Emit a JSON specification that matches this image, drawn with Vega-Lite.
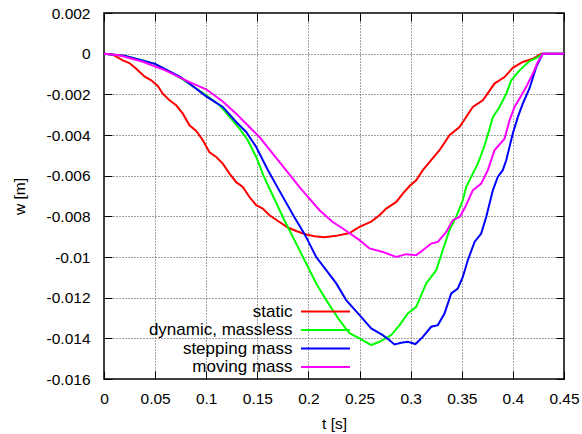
{
  "$schema": "https://vega.github.io/schema/vega-lite/v6.json",
  "width": 460,
  "height": 366,
  "autosize": {"type": "none"},
  "padding": {"left": 104, "top": 13, "right": 18, "bottom": 55},
  "background": "white",
  "config": {
    "font": "Liberation Sans",
    "view": {"stroke": "black", "strokeWidth": 1.5},
    "axis": {
      "domain": false,
      "tickColor": "black",
      "tickWidth": 1,
      "labelColor": "black",
      "labelFontSize": 15.5,
      "labelFont": "Liberation Sans",
      "titleFont": "Liberation Sans",
      "titleFontSize": 15.5,
      "titleFontWeight": "normal",
      "titleColor": "black",
      "labelFlush": false,
      "labelOverlap": false,
      "gridColor": "#444444",
      "gridDash": [1, 2],
      "gridWidth": 1
    }
  },
  "data": {
    "values": [
      {"series": "static", "t": 0, "w": 0},
      {"series": "static", "t": 0.0086, "w": -0.00005},
      {"series": "static", "t": 0.0184, "w": -0.00033},
      {"series": "static", "t": 0.0249, "w": -0.00046},
      {"series": "static", "t": 0.0315, "w": -0.00074},
      {"series": "static", "t": 0.0396, "w": -0.00112},
      {"series": "static", "t": 0.0462, "w": -0.00131},
      {"series": "static", "t": 0.0526, "w": -0.00159},
      {"series": "static", "t": 0.0575, "w": -0.00197},
      {"series": "static", "t": 0.0641, "w": -0.00229},
      {"series": "static", "t": 0.0706, "w": -0.00254},
      {"series": "static", "t": 0.0771, "w": -0.00295},
      {"series": "static", "t": 0.0836, "w": -0.00352},
      {"series": "static", "t": 0.0902, "w": -0.0038},
      {"series": "static", "t": 0.0967, "w": -0.00426},
      {"series": "static", "t": 0.1032, "w": -0.00485},
      {"series": "static", "t": 0.1098, "w": -0.00508},
      {"series": "static", "t": 0.1162, "w": -0.00541},
      {"series": "static", "t": 0.1228, "w": -0.0059},
      {"series": "static", "t": 0.1293, "w": -0.00632},
      {"series": "static", "t": 0.1358, "w": -0.00656},
      {"series": "static", "t": 0.1423, "w": -0.00705},
      {"series": "static", "t": 0.1489, "w": -0.00745},
      {"series": "static", "t": 0.1553, "w": -0.00762},
      {"series": "static", "t": 0.1619, "w": -0.00795},
      {"series": "static", "t": 0.1717, "w": -0.00828},
      {"series": "static", "t": 0.1798, "w": -0.00855},
      {"series": "static", "t": 0.188, "w": -0.00872},
      {"series": "static", "t": 0.1978, "w": -0.00889},
      {"series": "static", "t": 0.2059, "w": -0.00898},
      {"series": "static", "t": 0.2157, "w": -0.00903},
      {"series": "static", "t": 0.2272, "w": -0.00896},
      {"series": "static", "t": 0.2402, "w": -0.00882},
      {"series": "static", "t": 0.2499, "w": -0.00852},
      {"series": "static", "t": 0.2614, "w": -0.00826},
      {"series": "static", "t": 0.2695, "w": -0.00795},
      {"series": "static", "t": 0.2761, "w": -0.00762},
      {"series": "static", "t": 0.2859, "w": -0.00729},
      {"series": "static", "t": 0.2923, "w": -0.00688},
      {"series": "static", "t": 0.2989, "w": -0.00651},
      {"series": "static", "t": 0.3054, "w": -0.00623},
      {"series": "static", "t": 0.3119, "w": -0.00573},
      {"series": "static", "t": 0.3184, "w": -0.00533},
      {"series": "static", "t": 0.3282, "w": -0.00475},
      {"series": "static", "t": 0.338, "w": -0.00401},
      {"series": "static", "t": 0.3478, "w": -0.00361},
      {"series": "static", "t": 0.3608, "w": -0.00262},
      {"series": "static", "t": 0.3706, "w": -0.00229},
      {"series": "static", "t": 0.382, "w": -0.00147},
      {"series": "static", "t": 0.3918, "w": -0.00115},
      {"series": "static", "t": 0.3999, "w": -0.0007},
      {"series": "static", "t": 0.4097, "w": -0.00041},
      {"series": "static", "t": 0.4195, "w": -0.00025},
      {"series": "static", "t": 0.4277, "w": 0},
      {"series": "static", "t": 0.45, "w": 0},

      {"series": "dynamic, massless", "t": 0, "w": 0},
      {"series": "dynamic, massless", "t": 0.02, "w": -0.0001},
      {"series": "dynamic, massless", "t": 0.035, "w": -0.0003},
      {"series": "dynamic, massless", "t": 0.05, "w": -0.0005},
      {"series": "dynamic, massless", "t": 0.075, "w": -0.0012},
      {"series": "dynamic, massless", "t": 0.09, "w": -0.0017},
      {"series": "dynamic, massless", "t": 0.1, "w": -0.00205},
      {"series": "dynamic, massless", "t": 0.1132, "w": -0.00254},
      {"series": "dynamic, massless", "t": 0.123, "w": -0.00312},
      {"series": "dynamic, massless", "t": 0.1326, "w": -0.00369},
      {"series": "dynamic, massless", "t": 0.1407, "w": -0.00426},
      {"series": "dynamic, massless", "t": 0.1489, "w": -0.00508},
      {"series": "dynamic, massless", "t": 0.156, "w": -0.006},
      {"series": "dynamic, massless", "t": 0.1619, "w": -0.00663},
      {"series": "dynamic, massless", "t": 0.1749, "w": -0.00803},
      {"series": "dynamic, massless", "t": 0.188, "w": -0.00934},
      {"series": "dynamic, massless", "t": 0.1978, "w": -0.01032},
      {"series": "dynamic, massless", "t": 0.2076, "w": -0.0113},
      {"series": "dynamic, massless", "t": 0.2174, "w": -0.01212},
      {"series": "dynamic, massless", "t": 0.2303, "w": -0.01311},
      {"series": "dynamic, massless", "t": 0.2402, "w": -0.01375},
      {"series": "dynamic, massless", "t": 0.25, "w": -0.014},
      {"series": "dynamic, massless", "t": 0.2614, "w": -0.01433},
      {"series": "dynamic, massless", "t": 0.2695, "w": -0.01417},
      {"series": "dynamic, massless", "t": 0.281, "w": -0.01384},
      {"series": "dynamic, massless", "t": 0.2891, "w": -0.01335},
      {"series": "dynamic, massless", "t": 0.2972, "w": -0.01278},
      {"series": "dynamic, massless", "t": 0.3054, "w": -0.01245},
      {"series": "dynamic, massless", "t": 0.3152, "w": -0.0113},
      {"series": "dynamic, massless", "t": 0.325, "w": -0.01065},
      {"series": "dynamic, massless", "t": 0.3314, "w": -0.00967},
      {"series": "dynamic, massless", "t": 0.338, "w": -0.00868},
      {"series": "dynamic, massless", "t": 0.3445, "w": -0.00803},
      {"series": "dynamic, massless", "t": 0.351, "w": -0.00721},
      {"series": "dynamic, massless", "t": 0.3543, "w": -0.00656},
      {"series": "dynamic, massless", "t": 0.3608, "w": -0.0059},
      {"series": "dynamic, massless", "t": 0.3657, "w": -0.00541},
      {"series": "dynamic, massless", "t": 0.3706, "w": -0.00475},
      {"series": "dynamic, massless", "t": 0.3739, "w": -0.00426},
      {"series": "dynamic, massless", "t": 0.3804, "w": -0.00312},
      {"series": "dynamic, massless", "t": 0.3869, "w": -0.00262},
      {"series": "dynamic, massless", "t": 0.3935, "w": -0.00197},
      {"series": "dynamic, massless", "t": 0.3984, "w": -0.00131},
      {"series": "dynamic, massless", "t": 0.4065, "w": -0.00082},
      {"series": "dynamic, massless", "t": 0.4163, "w": -0.00036},
      {"series": "dynamic, massless", "t": 0.4244, "w": -0.00017},
      {"series": "dynamic, massless", "t": 0.4293, "w": 0},
      {"series": "dynamic, massless", "t": 0.45, "w": 0},

      {"series": "stepping mass", "t": 0, "w": 0},
      {"series": "stepping mass", "t": 0.02, "w": -0.0001},
      {"series": "stepping mass", "t": 0.05, "w": -0.0005},
      {"series": "stepping mass", "t": 0.075, "w": -0.00115},
      {"series": "stepping mass", "t": 0.1, "w": -0.0021},
      {"series": "stepping mass", "t": 0.1162, "w": -0.00262},
      {"series": "stepping mass", "t": 0.1293, "w": -0.00336},
      {"series": "stepping mass", "t": 0.1391, "w": -0.00385},
      {"series": "stepping mass", "t": 0.1489, "w": -0.00459},
      {"series": "stepping mass", "t": 0.16, "w": -0.0057},
      {"series": "stepping mass", "t": 0.17, "w": -0.0066},
      {"series": "stepping mass", "t": 0.1857, "w": -0.008},
      {"series": "stepping mass", "t": 0.1965, "w": -0.0089},
      {"series": "stepping mass", "t": 0.2076, "w": -0.01},
      {"series": "stepping mass", "t": 0.2174, "w": -0.01065},
      {"series": "stepping mass", "t": 0.2272, "w": -0.0113},
      {"series": "stepping mass", "t": 0.2369, "w": -0.01212},
      {"series": "stepping mass", "t": 0.25, "w": -0.01286},
      {"series": "stepping mass", "t": 0.2614, "w": -0.01351},
      {"series": "stepping mass", "t": 0.2727, "w": -0.01384},
      {"series": "stepping mass", "t": 0.2793, "w": -0.01409},
      {"series": "stepping mass", "t": 0.2842, "w": -0.0143},
      {"series": "stepping mass", "t": 0.2907, "w": -0.01422},
      {"series": "stepping mass", "t": 0.2972, "w": -0.01417},
      {"series": "stepping mass", "t": 0.3047, "w": -0.01428},
      {"series": "stepping mass", "t": 0.3119, "w": -0.01393},
      {"series": "stepping mass", "t": 0.3201, "w": -0.01343},
      {"series": "stepping mass", "t": 0.3266, "w": -0.01335},
      {"series": "stepping mass", "t": 0.3331, "w": -0.01278},
      {"series": "stepping mass", "t": 0.3397, "w": -0.01179},
      {"series": "stepping mass", "t": 0.3461, "w": -0.01155},
      {"series": "stepping mass", "t": 0.351, "w": -0.01098},
      {"series": "stepping mass", "t": 0.3559, "w": -0.01016},
      {"series": "stepping mass", "t": 0.3625, "w": -0.00926},
      {"series": "stepping mass", "t": 0.369, "w": -0.00885},
      {"series": "stepping mass", "t": 0.3739, "w": -0.00803},
      {"series": "stepping mass", "t": 0.3804, "w": -0.00672},
      {"series": "stepping mass", "t": 0.3852, "w": -0.00606},
      {"series": "stepping mass", "t": 0.3901, "w": -0.00573},
      {"series": "stepping mass", "t": 0.3935, "w": -0.00524},
      {"series": "stepping mass", "t": 0.3999, "w": -0.00393},
      {"series": "stepping mass", "t": 0.4048, "w": -0.00312},
      {"series": "stepping mass", "t": 0.4097, "w": -0.00246},
      {"series": "stepping mass", "t": 0.4163, "w": -0.0017},
      {"series": "stepping mass", "t": 0.4228, "w": -0.00066},
      {"series": "stepping mass", "t": 0.4293, "w": 0},
      {"series": "stepping mass", "t": 0.45, "w": 0},

      {"series": "moving mass", "t": 0, "w": 0},
      {"series": "moving mass", "t": 0.015, "w": -0.00008},
      {"series": "moving mass", "t": 0.038, "w": -0.0004},
      {"series": "moving mass", "t": 0.06, "w": -0.00082},
      {"series": "moving mass", "t": 0.0836, "w": -0.0014},
      {"series": "moving mass", "t": 0.1, "w": -0.00175},
      {"series": "moving mass", "t": 0.1162, "w": -0.00235},
      {"series": "moving mass", "t": 0.1293, "w": -0.00295},
      {"series": "moving mass", "t": 0.1423, "w": -0.00361},
      {"series": "moving mass", "t": 0.1521, "w": -0.0041},
      {"series": "moving mass", "t": 0.1651, "w": -0.00491},
      {"series": "moving mass", "t": 0.1782, "w": -0.00574},
      {"series": "moving mass", "t": 0.1913, "w": -0.00656},
      {"series": "moving mass", "t": 0.2108, "w": -0.0077},
      {"series": "moving mass", "t": 0.2238, "w": -0.00828},
      {"series": "moving mass", "t": 0.2336, "w": -0.0086},
      {"series": "moving mass", "t": 0.25, "w": -0.00917},
      {"series": "moving mass", "t": 0.2597, "w": -0.00958},
      {"series": "moving mass", "t": 0.2727, "w": -0.00975},
      {"series": "moving mass", "t": 0.2859, "w": -0.01},
      {"series": "moving mass", "t": 0.2956, "w": -0.00986},
      {"series": "moving mass", "t": 0.3054, "w": -0.00991},
      {"series": "moving mass", "t": 0.3119, "w": -0.00967},
      {"series": "moving mass", "t": 0.3201, "w": -0.00934},
      {"series": "moving mass", "t": 0.3266, "w": -0.00926},
      {"series": "moving mass", "t": 0.3348, "w": -0.00877},
      {"series": "moving mass", "t": 0.3412, "w": -0.00819},
      {"series": "moving mass", "t": 0.3478, "w": -0.00803},
      {"series": "moving mass", "t": 0.3527, "w": -0.00762},
      {"series": "moving mass", "t": 0.3608, "w": -0.00672},
      {"series": "moving mass", "t": 0.369, "w": -0.00639},
      {"series": "moving mass", "t": 0.3755, "w": -0.00573},
      {"series": "moving mass", "t": 0.382, "w": -0.00475},
      {"series": "moving mass", "t": 0.3918, "w": -0.00418},
      {"series": "moving mass", "t": 0.3967, "w": -0.00328},
      {"series": "moving mass", "t": 0.4016, "w": -0.00262},
      {"series": "moving mass", "t": 0.4065, "w": -0.00221},
      {"series": "moving mass", "t": 0.413, "w": -0.00164},
      {"series": "moving mass", "t": 0.4195, "w": -0.00098},
      {"series": "moving mass", "t": 0.4244, "w": -0.00041},
      {"series": "moving mass", "t": 0.4293, "w": 0},
      {"series": "moving mass", "t": 0.45, "w": 0}
    ]
  },
  "layer": [
    {
      "mark": {"type": "line", "strokeWidth": 2},
      "encoding": {
        "x": {
          "field": "t",
          "type": "quantitative",
          "scale": {"domain": [0, 0.45], "nice": false, "zero": false},
          "axis": {
            "orient": "bottom",
            "title": "t [s]",
            "values": [0, 0.05, 0.1, 0.15, 0.2, 0.25, 0.3, 0.35, 0.4, 0.45],
            "labelExpr": "replace(format(datum.value, '~g'), '\u2212', '-')",
            "tickSize": -8,
            "labelPadding": 20,
            "titlePadding": 10,
            "grid": true
          }
        },
        "y": {
          "field": "w",
          "type": "quantitative",
          "scale": {"domain": [-0.016, 0.002], "nice": false, "zero": false},
          "axis": {
            "orient": "left",
            "title": "w [m]",
            "values": [-0.016, -0.014, -0.012, -0.01, -0.008, -0.006, -0.004, -0.002, 0, 0.002],
            "labelExpr": "replace(format(datum.value, '~g'), '\u2212', '-')",
            "tickSize": -8,
            "labelPadding": 22,
            "titlePadding": 19,
            "grid": true
          }
        },
        "color": {
          "field": "series",
          "type": "nominal",
          "sort": null,
          "scale": {
            "domain": ["static", "dynamic, massless", "stepping mass", "moving mass"],
            "range": ["#ff0000", "#00ff00", "#0000ff", "#ff00ff"]
          },
          "legend": {
            "orient": "none",
            "legendX": 213,
            "legendY": 290,
            "title": null,
            "padding": 0,
            "symbolType": "M-5,0H5",
            "symbolStrokeWidth": 2,
            "symbolSize": 96,
            "labelAlign": "right",
            "labelOffset": -41.5,
            "labelFontSize": 17,
            "labelColor": "black",
            "labelFont": "Liberation Sans",
            "rowPadding": 0.5
          }
        }
      }
    },
    {
      "mark": {"type": "point", "opacity": 0},
      "encoding": {
        "x": {
          "field": "t",
          "type": "quantitative",
          "axis": {
            "orient": "top",
            "title": null,
            "labels": false,
            "values": [0, 0.05, 0.1, 0.15, 0.2, 0.25, 0.3, 0.35, 0.4, 0.45],
            "tickSize": -8,
            "grid": false
          }
        },
        "y": {
          "field": "w",
          "type": "quantitative",
          "axis": {
            "orient": "right",
            "title": null,
            "labels": false,
            "values": [-0.016, -0.014, -0.012, -0.01, -0.008, -0.006, -0.004, -0.002, 0, 0.002],
            "tickSize": -8,
            "grid": false
          }
        }
      }
    }
  ],
  "resolve": {"axis": {"x": "independent", "y": "independent"}}
}
